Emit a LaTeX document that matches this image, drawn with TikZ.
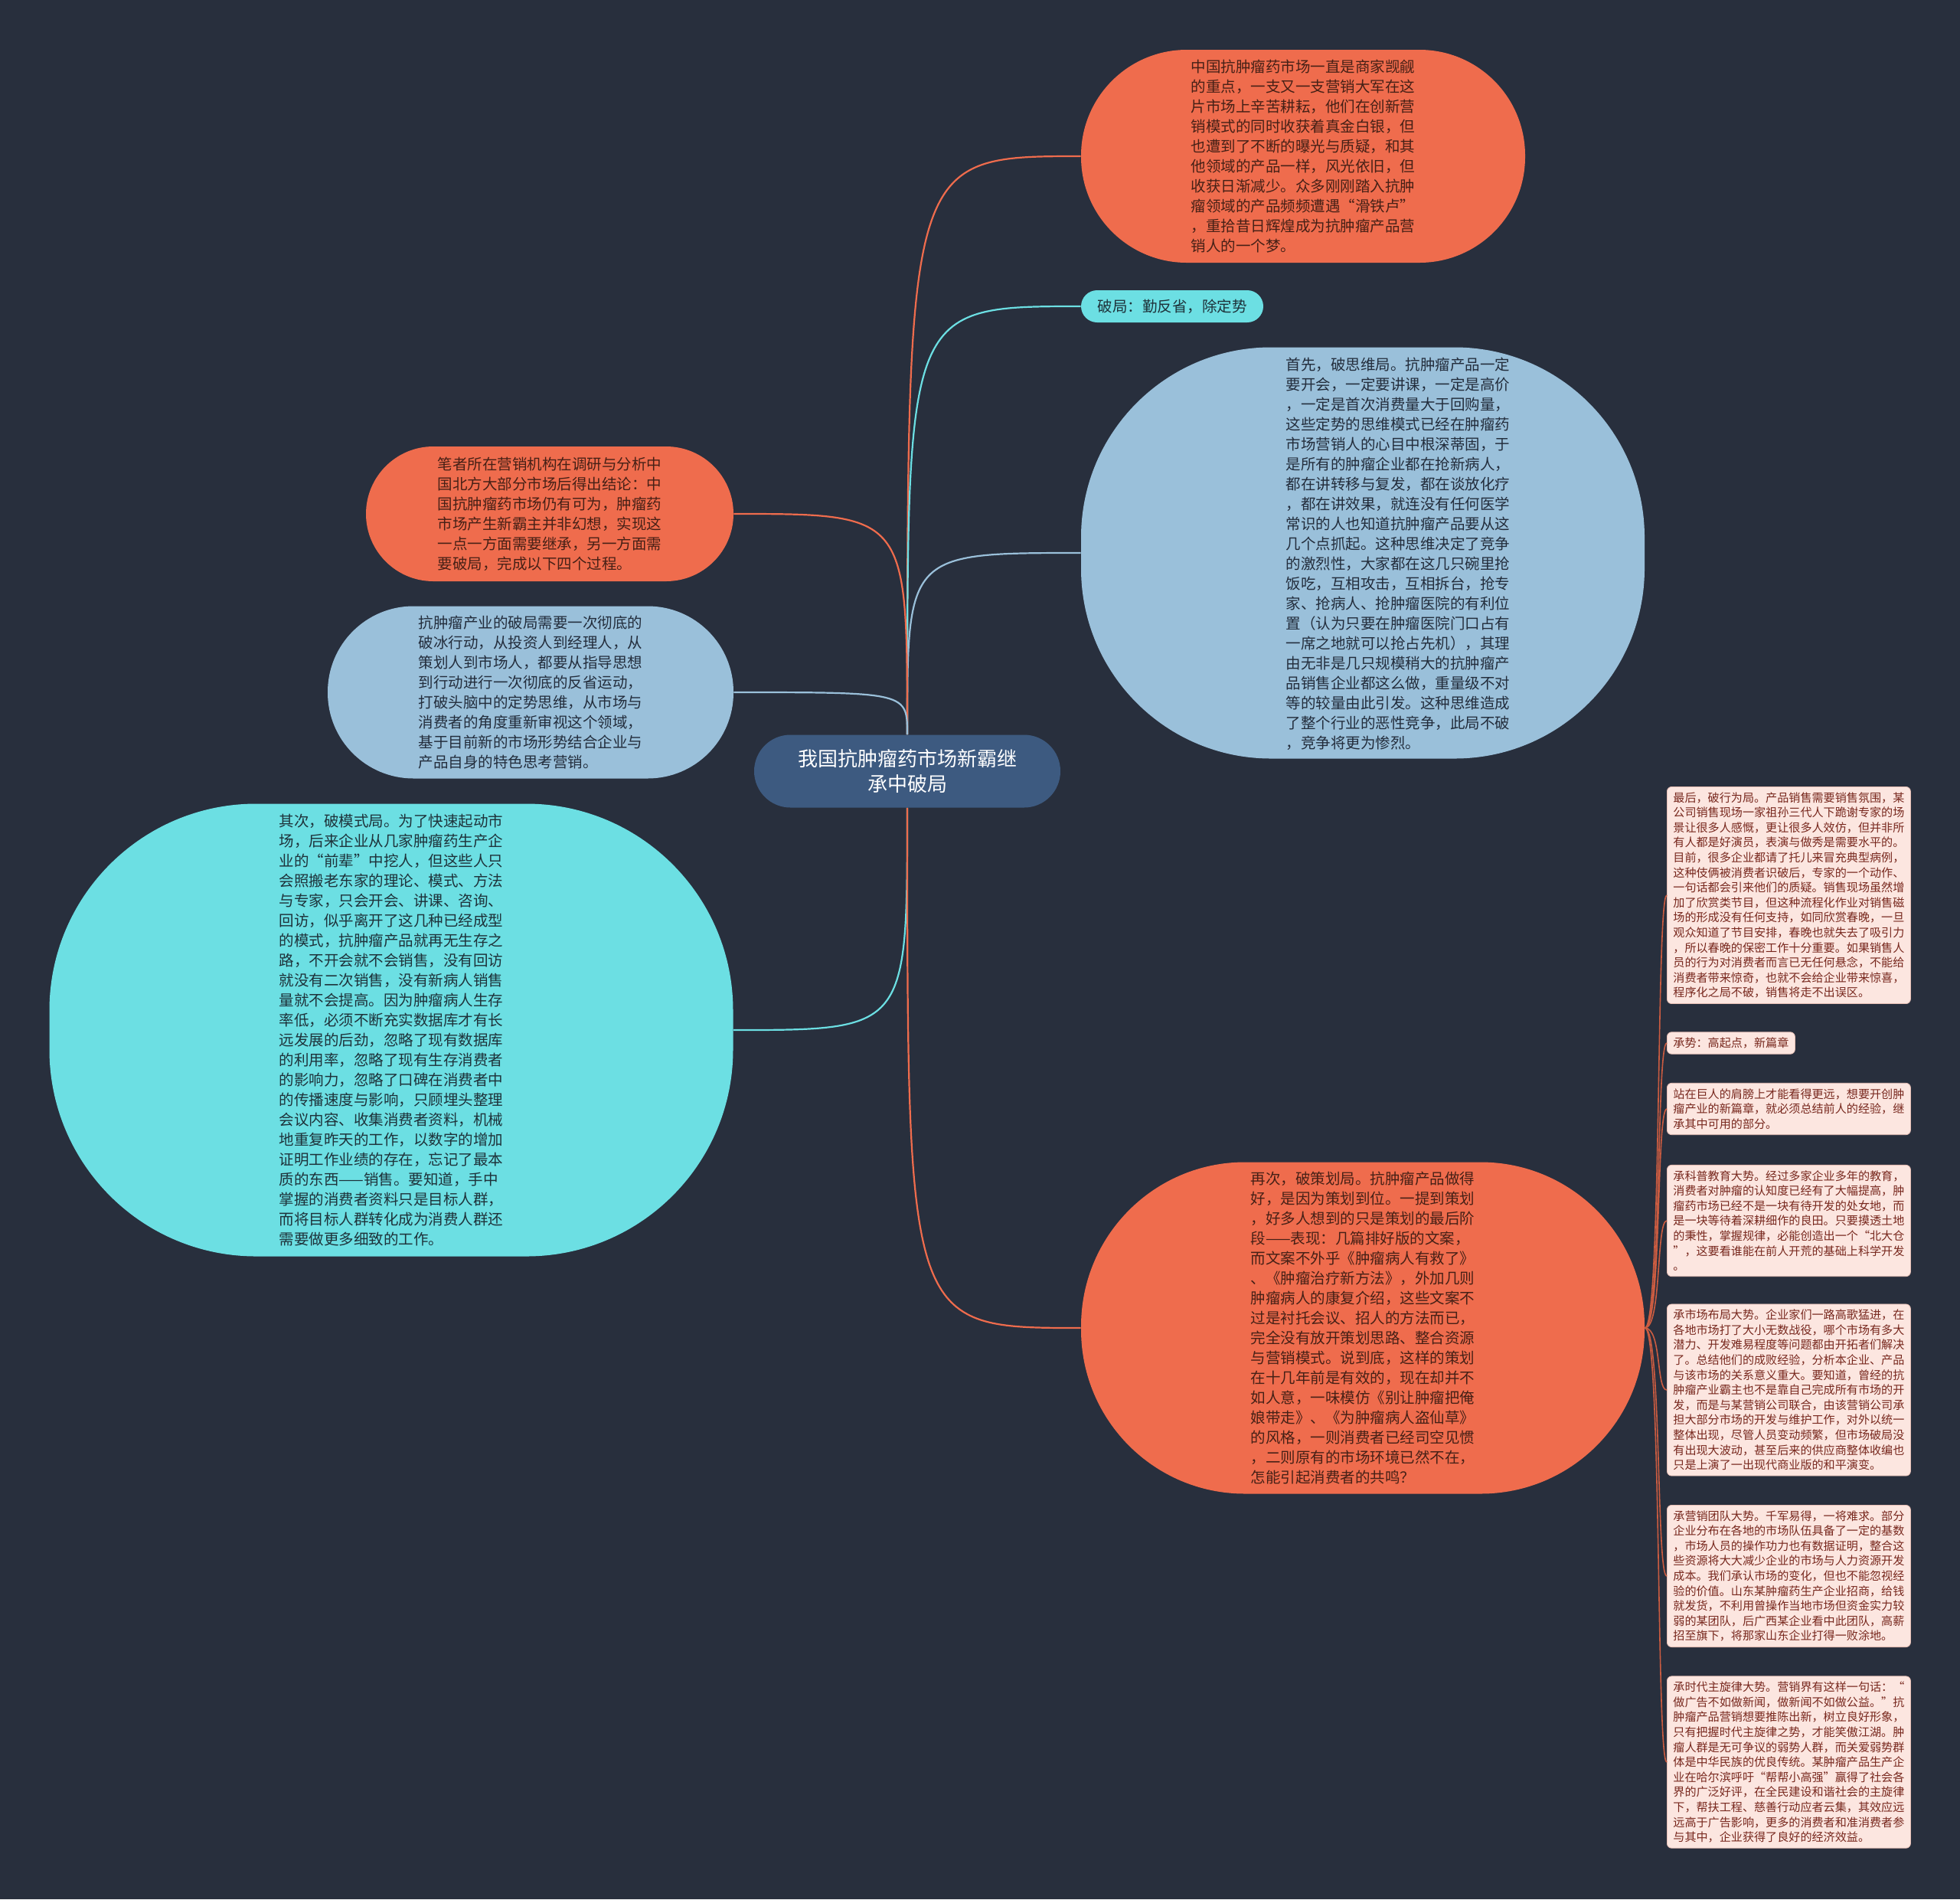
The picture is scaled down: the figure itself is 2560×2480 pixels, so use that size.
\documentclass[tikz,border=0pt]{standalone}
\usepackage{fontspec}
\setmainfont{Noto Sans CJK SC}
\definecolor{bg}{RGB}{40,47,61}
\definecolor{org}{RGB}{239,108,77}
\definecolor{blu}{RGB}{154,192,218}
\definecolor{cya}{RGB}{108,223,227}
\definecolor{ctr}{RGB}{61,90,128}
\definecolor{notefill}{RGB}{252,230,224}
\definecolor{noteedge}{RGB}{230,190,180}
\definecolor{notetext}{RGB}{120,40,30}
\definecolor{orgtext}{RGB}{70,32,22}
\definecolor{blutext}{RGB}{35,45,60}
\definecolor{cyatext}{RGB}{30,50,58}
\begin{document}
\begin{tikzpicture}[x=0.5pt,y=-0.5pt,
  bub/.style={inner sep=0pt, align=left, font=\fontsize{9.75}{13}\selectfont},
  obub/.style={bub, fill=org, text=orgtext},
  bbub/.style={bub, fill=blu, text=blutext},
  cbub/.style={bub, fill=cya, text=cyatext},
  note/.style={fill=notefill, draw=noteedge, line width=0.4pt, rounded corners=3pt,
    text=notetext, font=\fontsize{7.55}{9.8}\selectfont, align=left,
    inner xsep=4pt, inner ysep=3.5pt, anchor=west},
  oline/.style={draw=org, line width=1.1pt},
  bline/.style={draw=blu, line width=1.1pt},
  cline/.style={draw=cya, line width=1.1pt},
  nline/.style={draw=org!85!black, line width=0.8pt}]
\fill[bg] (0,0) rectangle (2560,2480);
\useasboundingbox (0,0) rectangle (2560,2480);

% center
\node[fill=ctr, text=white, rounded corners=23.7pt, minimum width=200pt, minimum height=47.5pt,
  align=center, font=\fontsize{13}{16.5}\selectfont, inner sep=0pt] (c) at (1185,1007)
  {我国抗肿瘤药市场新霸继\\承中破局};

% top right orange
\node[obub, rounded corners=69pt, minimum width=290pt, minimum height=139pt] (tr) at (1702,204)
{中国抗肿瘤药市场一直是商家觊觎\\的重点，一支又一支营销大军在这\\片市场上辛苦耕耘，他们在创新营\\销模式的同时收获着真金白银，但\\也遭到了不断的曝光与质疑，和其\\他领域的产品一样，风光依旧，但\\收获日渐减少。众多刚刚踏入抗肿\\瘤领域的产品频频遭遇“滑铁卢”\\，重拾昔日辉煌成为抗肿瘤产品营\\销人的一个梦。};

% small cyan
\node[cbub, rounded corners=10.5pt, minimum width=119pt, minimum height=21pt] (ps) at (1531,400)
{破局：勤反省，除定势};

% big blue
\node[fill=blu, rounded corners=124pt, minimum width=368pt, minimum height=268.5pt, inner sep=0pt] (bb) at (1780,722) {};
\node[bbub] (bbt) at (1826,723)
{首先，破思维局。抗肿瘤产品一定\\要开会，一定要讲课，一定是高价\\，一定是首次消费量大于回购量，\\这些定势的思维模式已经在肿瘤药\\市场营销人的心目中根深蒂固，于\\是所有的肿瘤企业都在抢新病人，\\都在讲转移与复发，都在谈放化疗\\，都在讲效果，就连没有任何医学\\常识的人也知道抗肿瘤产品要从这\\几个点抓起。这种思维决定了竞争\\的激烈性，大家都在这几只碗里抢\\饭吃，互相攻击，互相拆台，抢专\\家、抢病人、抢肿瘤医院的有利位\\置（认为只要在肿瘤医院门口占有\\一席之地就可以抢占先机），其理\\由无非是几只规模稍大的抗肿瘤产\\品销售企业都这么做，重量级不对\\等的较量由此引发。这种思维造成\\了整个行业的恶性竞争，此局不破\\，竞争将更为惨烈。};

% left orange
\node[obub, rounded corners=44pt, minimum width=240pt, minimum height=88pt] (lo) at (718,671)
{笔者所在营销机构在调研与分析中\\国北方大部分市场后得出结论：中\\国抗肿瘤药市场仍有可为，肿瘤药\\市场产生新霸主并非幻想，实现这\\一点一方面需要继承，另一方面需\\要破局，完成以下四个过程。};

% left blue
\node[bbub, rounded corners=56pt, minimum width=265pt, minimum height=112.5pt] (lb) at (693,904)
{抗肿瘤产业的破局需要一次彻底的\\破冰行动，从投资人到经理人，从\\策划人到市场人，都要从指导思想\\到行动进行一次彻底的反省运动，\\打破头脑中的定势思维，从市场与\\消费者的角度重新审视这个领域，\\基于目前新的市场形势结合企业与\\产品自身的特色思考营销。};

% big cyan
\node[cbub, rounded corners=135pt, minimum width=446.5pt, minimum height=295.5pt] (bc) at (511,1345)
{其次，破模式局。为了快速起动市\\场，后来企业从几家肿瘤药生产企\\业的“前辈”中挖人，但这些人只\\会照搬老东家的理论、模式、方法\\与专家，只会开会、讲课、咨询、\\回访，似乎离开了这几种已经成型\\的模式，抗肿瘤产品就再无生存之\\路，不开会就不会销售，没有回访\\就没有二次销售，没有新病人销售\\量就不会提高。因为肿瘤病人生存\\率低，必须不断充实数据库才有长\\远发展的后劲，忽略了现有数据库\\的利用率，忽略了现有生存消费者\\的影响力，忽略了口碑在消费者中\\的传播速度与影响，只顾埋头整理\\会议内容、收集消费者资料，机械\\地重复昨天的工作，以数字的增加\\证明工作业绩的存在，忘记了最本\\质的东西——销售。要知道，手中\\掌握的消费者资料只是目标人群，\\而将目标人群转化成为消费人群还\\需要做更多细致的工作。};

% bottom orange
\node[obub, rounded corners=107pt, minimum width=368pt, minimum height=216.5pt] (bo) at (1780,1734)
{再次，破策划局。抗肿瘤产品做得\\好，是因为策划到位。一提到策划\\，好多人想到的只是策划的最后阶\\段——表现：几篇排好版的文案，\\而文案不外乎《肿瘤病人有救了》\\、《肿瘤治疗新方法》，外加几则\\肿瘤病人的康复介绍，这些文案不\\过是衬托会议、招人的方法而已，\\完全没有放开策划思路、整合资源\\与营销模式。说到底，这样的策划\\在十几年前是有效的，现在却并不\\如人意，一味模仿《别让肿瘤把俺\\娘带走》、《为肿瘤病人盗仙草》\\的风格，一则消费者已经司空见惯\\，二则原有的市场环境已然不在，\\怎能引起消费者的共鸣？};

% right notes
\node[note] (n1) at (2177,1169)
{最后，破行为局。产品销售需要销售氛围，某\\公司销售现场一家祖孙三代人下跪谢专家的场\\景让很多人感慨，更让很多人效仿，但并非所\\有人都是好演员，表演与做秀是需要水平的。\\目前，很多企业都请了托儿来冒充典型病例，\\这种伎俩被消费者识破后，专家的一个动作、\\一句话都会引来他们的质疑。销售现场虽然增\\加了欣赏类节目，但这种流程化作业对销售磁\\场的形成没有任何支持，如同欣赏春晚，一旦\\观众知道了节目安排，春晚也就失去了吸引力\\，所以春晚的保密工作十分重要。如果销售人\\员的行为对消费者而言已无任何悬念，不能给\\消费者带来惊奇，也就不会给企业带来惊喜，\\程序化之局不破，销售将走不出误区。};
\node[note] (n2) at (2177,1362) {承势：高起点，新篇章};
\node[note] (n3) at (2177,1448)
{站在巨人的肩膀上才能看得更远，想要开创肿\\瘤产业的新篇章，就必须总结前人的经验，继\\承其中可用的部分。};
\node[note] (n4) at (2177,1594)
{承科普教育大势。经过多家企业多年的教育，\\消费者对肿瘤的认知度已经有了大幅提高，肿\\瘤药市场已经不是一块有待开发的处女地，而\\是一块等待着深耕细作的良田。只要摸透土地\\的秉性，掌握规律，必能创造出一个“北大仓\\”，这要看谁能在前人开荒的基础上科学开发\\。};
\node[note] (n5) at (2177,1815)
{承市场布局大势。企业家们一路高歌猛进，在\\各地市场打了大小无数战役，哪个市场有多大\\潜力、开发难易程度等问题都由开拓者们解决\\了。总结他们的成败经验，分析本企业、产品\\与该市场的关系意义重大。要知道，曾经的抗\\肿瘤产业霸主也不是靠自己完成所有市场的开\\发，而是与某营销公司联合，由该营销公司承\\担大部分市场的开发与维护工作，对外以统一\\整体出现，尽管人员变动频繁，但市场破局没\\有出现大波动，甚至后来的供应商整体收编也\\只是上演了一出现代商业版的和平演变。};
\node[note] (n6) at (2177,2058)
{承营销团队大势。千军易得，一将难求。部分\\企业分布在各地的市场队伍具备了一定的基数\\，市场人员的操作功力也有数据证明，整合这\\些资源将大大减少企业的市场与人力资源开发\\成本。我们承认市场的变化，但也不能忽视经\\验的价值。山东某肿瘤药生产企业招商，给钱\\就发货，不利用曾操作当地市场但资金实力较\\弱的某团队，后广西某企业看中此团队，高薪\\招至旗下，将那家山东企业打得一败涂地。};
\node[note] (n7) at (2177,2301)
{承时代主旋律大势。营销界有这样一句话：“\\做广告不如做新闻，做新闻不如做公益。”抗\\肿瘤产品营销想要推陈出新，树立良好形象，\\只有把握时代主旋律之势，才能笑傲江湖。肿\\瘤人群是无可争议的弱势人群，而关爱弱势群\\体是中华民族的优良传统。某肿瘤产品生产企\\业在哈尔滨呼吁“帮帮小高强”赢得了社会各\\界的广泛好评，在全民建设和谐社会的主旋律\\下，帮扶工程、慈善行动应者云集，其效应远\\远高于广告影响，更多的消费者和准消费者参\\与其中，企业获得了良好的经济效益。};

% connectors from center
\draw[oline] (c.north) .. controls (c.north |- tr.west) .. (tr.west);
\draw[cline] (c.north) .. controls (c.north |- ps.west) .. (ps.west);
\draw[bline] (c.north) .. controls (c.north |- bb.west) .. (bb.west);
\draw[oline] (c.north) .. controls (c.north |- lo.east) .. (lo.east);
\draw[bline] (c.north) .. controls (c.north |- lb.east) .. (lb.east);
\draw[cline] (c.south) .. controls (c.south |- bc.east) .. (bc.east);
\draw[oline] (c.south) .. controls (c.south |- bo.west) .. (bo.west);

% connectors to notes
\foreach \n in {n1,n2,n3,n4,n5,n6,n7}
  \draw[nline] (bo.east) .. controls +(22,0) and +(-14,0) .. (\n.west);
\end{tikzpicture}
\end{document}
